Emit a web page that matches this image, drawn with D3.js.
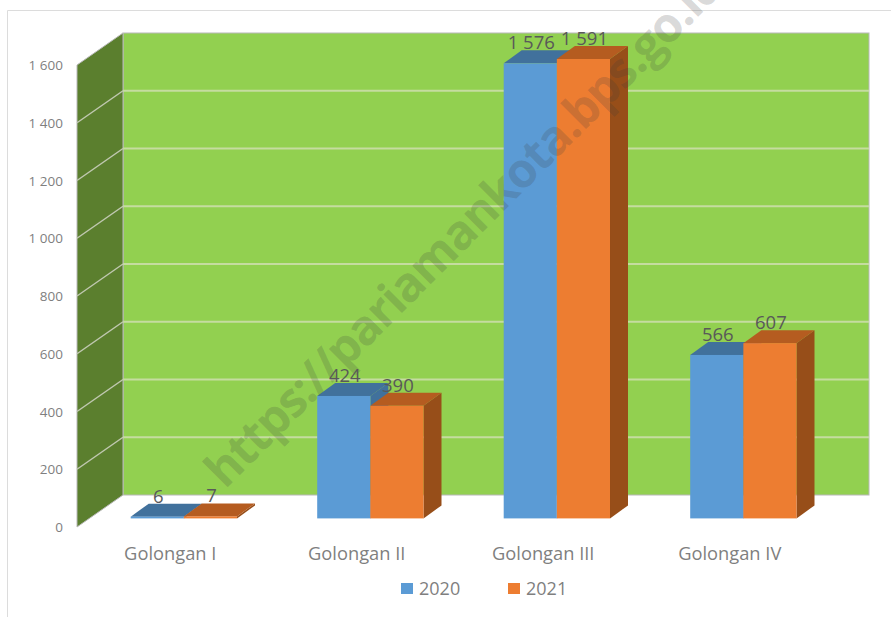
<!DOCTYPE html>
<html>
  <head>
    <meta charset="UTF-8">
    <title>Golongan 2020 - 2021</title>
    <script src="https://d3js.org/d3.v7.min.js"></script>
    <style>
      html, body { margin: 0; padding: 0; background: #fff; }
      svg { display: block; }
      text { font-family: "Open Sans", sans-serif; fill: #7f7f7f; }
    </style>
  </head>
  <body>
    <div id="chart"></div>
    <script>
      const categories = ["Golongan I", "Golongan II", "Golongan III", "Golongan IV"];
      const seriesNames = ["2020", "2021"];
      const values2020 = [6, 424, 1576, 566];
      const values2021 = [7, 390, 1591, 607];
      const yTicks = [0, 200, 400, 600, 800, 1000, 1200, 1400, 1600];

      const width = 891;
      const height = 617;

      const svg = d3.select("#chart")
        .append("svg")
        .attr("width", width)
        .attr("height", height);

      // front plane of the 3d box
      const x = d3.scaleBand().domain(categories).range([77, 823]).paddingInner(0.43).paddingOuter(0.215);
      const xSeries = d3.scaleBand().domain(seriesNames).range([0, x.bandwidth()]);
      const y = d3.scaleLinear().domain([0, 1600]).range([527, 65]);

      // depth of the box and of the bars, as an offset on screen
      const boxDx = 46, boxDy = -32;
      const barDx = 18, barDy = -13;
      const barX0 = 13.6, barY0 = -8.6;

      const colors = {
        "2020": { front: "#5b9bd5", top: "#41719c", side: "#41719c" },
        "2021": { front: "#ed7d31", top: "#b55c20", side: "#974e19" }
      };
      const fmt = d => d3.format(",")(d).replace(",", " ");
      const poly = pts => pts.map(p => p.join(",")).join(" ");

      // border of the picture
      svg.append("path")
        .attr("d", `M7.5,${height} V10.5 H${width}`)
        .attr("fill", "none")
        .attr("stroke", "#dcdcdc");

      // back wall, side wall, floor
      svg.append("rect")
        .attr("x", 77 + boxDx)
        .attr("y", y(1600) + boxDy)
        .attr("width", 823 - 77)
        .attr("height", y(0) - y(1600))
        .attr("fill", "#92d050")
        .attr("stroke", "#b8b8b8");

      svg.append("polygon")
        .attr("points", poly([[77, y(0)], [77, y(1600)], [77 + boxDx, y(1600) + boxDy], [77 + boxDx, y(0) + boxDy]]))
        .attr("fill", "#5b7f2e")
        .attr("stroke", "#b8b8b8");

      // gridlines on the two walls
      const grid = svg.append("g");
      grid.selectAll(".back")
        .data(yTicks.slice(1, -1))
        .enter()
        .append("line")
        .attr("x1", 77 + boxDx).attr("x2", 823 + boxDx)
        .attr("y1", d => y(d) + boxDy).attr("y2", d => y(d) + boxDy)
        .attr("stroke", "#c5dca0").attr("stroke-width", 2);
      grid.selectAll(".side")
        .data(yTicks.slice(1, -1))
        .enter()
        .append("line")
        .attr("x1", 77).attr("x2", 77 + boxDx)
        .attr("y1", d => y(d)).attr("y2", d => y(d) + boxDy)
        .attr("stroke", "#c0c8b0").attr("stroke-width", 1.5);

      // bars, one group per category, 2020 before 2021 so the later one covers it
      const rows = categories.map((c, i) => ({ cat: c, "2020": values2020[i], "2021": values2021[i] }));
      const bars = svg.selectAll(".cat")
        .data(rows)
        .enter()
        .append("g")
        .attr("class", "cat");

      seriesNames.forEach(s => {
        bars.each(function (d) {
          const g = d3.select(this);
          const x0 = x(d.cat) + xSeries(s) + barX0;
          const x1 = x0 + xSeries.bandwidth();
          const yb = y(0) + barY0;
          const yt = y(d[s]) + barY0;
          g.append("polygon")
            .attr("points", poly([[x1, yb], [x1, yt], [x1 + barDx, yt + barDy], [x1 + barDx, yb + barDy]]))
            .attr("fill", colors[s].side);
          g.append("polygon")
            .attr("points", poly([[x0, yt], [x1, yt], [x1 + barDx, yt + barDy], [x0 + barDx, yt + barDy]]))
            .attr("fill", colors[s].top);
          g.append("rect")
            .attr("x", x0).attr("y", yt)
            .attr("width", x1 - x0).attr("height", yb - yt)
            .attr("fill", colors[s].front);
        });
      });

      // watermark lies over the whole chart and runs off the top like the original
      svg.append("text")
        .text("https://pariamankota.bps.go.id")
        .attr("transform", "translate(225,490) rotate(-45)")
        .attr("font-size", 48)
        .attr("font-weight", 700)
        .attr("textLength", 709)
        .style("fill", "#3c3c3c")
        .style("fill-opacity", 0.2);

      // data labels
      seriesNames.forEach(s => {
        svg.append("g").selectAll("text")
          .data(rows)
          .enter()
          .append("text")
          .text(d => fmt(d[s]))
          .attr("x", d => x(d.cat) + xSeries(s) + xSeries.bandwidth() / 2 + barX0 + 1)
          .attr("y", d => y(d[s]) + barY0 - 14)
          .attr("text-anchor", "middle")
          .attr("font-size", 18.5)
          .style("fill", "#595959");
      });

      // value axis labels
      svg.append("g").selectAll("text")
        .data(yTicks)
        .enter()
        .append("text")
        .text(fmt)
        .attr("x", 63)
        .attr("y", d => y(d) + 5)
        .attr("text-anchor", "end")
        .attr("font-size", 13.5);

      // category labels
      svg.append("g").selectAll("text")
        .data(categories)
        .enter()
        .append("text")
        .text(d => d)
        .attr("x", d => x(d) + x.bandwidth() / 2)
        .attr("y", 560)
        .attr("text-anchor", "middle")
        .attr("font-size", 18.3);

      // legend
      const legendX = d3.scaleOrdinal().domain(seriesNames).range([401, 508]);
      const legend = svg.selectAll(".legend")
        .data(seriesNames)
        .enter()
        .append("g")
        .attr("class", "legend")
        .attr("transform", d => `translate(${legendX(d)}, 583)`);
      legend.append("rect")
        .attr("width", 12)
        .attr("height", 11)
        .attr("fill", d => colors[d].front);
      legend.append("text")
        .text(d => d)
        .attr("x", 18)
        .attr("y", 12)
        .attr("font-size", 18);
    </script>
  </body>
</html>
